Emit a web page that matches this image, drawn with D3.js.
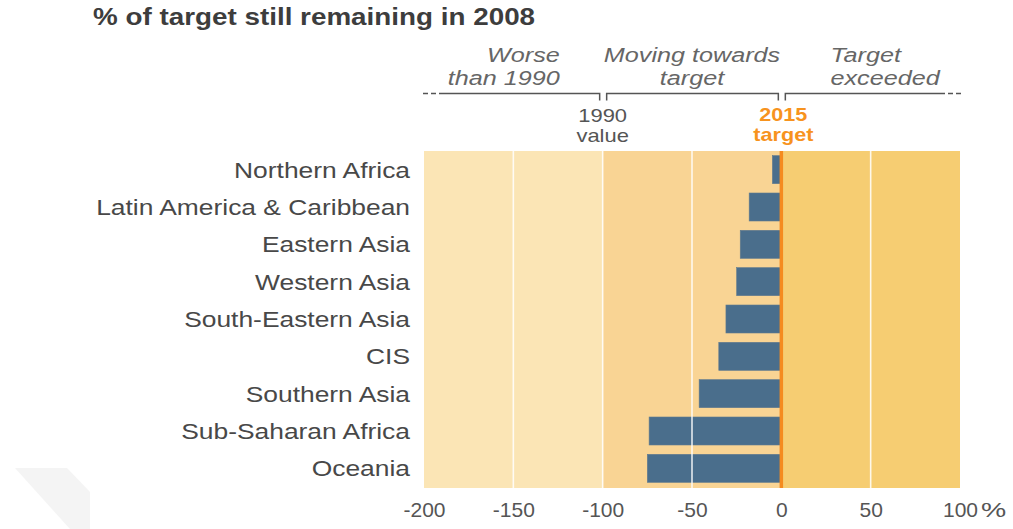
<!DOCTYPE html>
<html>
<head>
<meta charset="utf-8">
<script src="https://cdn.jsdelivr.net/npm/d3@7"></script>
<style>
  html, body { margin: 0; padding: 0; background: #fff; }
  svg { display: block; font-family: "Liberation Sans", Arial, sans-serif; }
</style>
</head>
<body>
<div id="chart"></div>
<script>
// --- data ---
const regions = ["Northern Africa", "Latin America & Caribbean", "Eastern Asia", "Western Asia",
                 "South-Eastern Asia", "CIS", "Southern Asia", "Sub-Saharan Africa", "Oceania"];
const remaining = [-5, -18, -23, -25, -31, -35, -46, -74, -75];   // % of target still remaining
const tickValues = [-200, -150, -100, -50, 0, 50, 100];
const gridValues = [-150, -100, -50, 50];
const zoneNames = [["Worse", "than 1990"], ["Moving towards", "target"], ["Target", "exceeded"]];
const zoneBounds = [[-200, -100], [-100, 0], [0, 100]];
const zoneColors = ["#fbe5b5", "#f9d494", "#f6cd72"];

const width = 1013, height = 529;
const SX = 1.2; // the original graphic's type is a little wide

const svg = d3.select("#chart").append("svg")
    .attr("width", width)
    .attr("height", height);

// place a text at (px, py) and widen it horizontally
function place(sel, px, py, sx) {
  return sel.attr("transform", `translate(${px},${py}) scale(${sx || SX},1)`);
}

// faint decoration bottom left
svg.append("polygon")
    .attr("points", "15,468 67,468 90,492 90,529 70,529")
    .attr("fill", "#f4f4f4");

// --- scales ---
const x = d3.scaleLinear().domain([-200, 100]).range([424, 960]);
const y = d3.scaleBand().domain(regions).range([151, 487]).paddingInner(0.25).paddingOuter(0.125);

const yTop = y.range()[0], yBottom = y.range()[1] + 1;

// title
place(svg.append("text"), 93, 25, 1.21)
    .attr("fill", "#3d3d3d")
    .style("font-size", "23px").style("font-weight", "bold")
    .text("% of target still remaining in 2008");

// --- background zones ---
svg.append("g").selectAll("rect")
    .data(zoneBounds)
    .join("rect")
    .attr("x", d => x(d[0]))
    .attr("y", yTop)
    .attr("width", d => x(d[1]) - x(d[0]))
    .attr("height", yBottom - yTop)
    .attr("fill", (d, i) => zoneColors[i]);

// --- bars ---
svg.append("g").selectAll("rect")
    .data(regions)
    .join("rect")
    .attr("x", (d, i) => x(remaining[i]))
    .attr("y", d => y(d))
    .attr("width", (d, i) => x(0) - x(remaining[i]))
    .attr("height", y.bandwidth())
    .attr("fill", "#4a6e8c")
    .attr("stroke", "#5f7a8f")
    .attr("stroke-width", 0.6);

// white grid lines (drawn over bars)
svg.append("g").selectAll("line")
    .data(gridValues)
    .join("line")
    .attr("x1", d => x(d)).attr("x2", d => x(d))
    .attr("y1", yTop).attr("y2", yBottom)
    .attr("stroke", "#fff")
    .attr("stroke-opacity", 0.85)
    .attr("stroke-width", 1.6);

// 2015 target line
svg.append("line")
    .attr("x1", x(0)).attr("x2", x(0))
    .attr("y1", yTop).attr("y2", yBottom)
    .attr("stroke", "#f58b1f")
    .attr("stroke-width", 3.5);

// --- category labels ---
svg.append("g").selectAll("text")
    .data(regions)
    .join("text")
    .attr("transform", d => `translate(410, ${y(d) + y.bandwidth() / 2 + 8}) scale(${SX},1)`)
    .attr("text-anchor", "end")
    .attr("fill", "#484848")
    .style("font-size", "22px")
    .text(d => d);

// --- x axis ---
const xAxis = d3.axisBottom(x)
    .tickValues(tickValues)
    .tickSize(0)
    .tickPadding(0)
    .tickFormat(d => String(d));

const axisG = svg.append("g")
    .attr("transform", `translate(0, 517)`)
    .call(xAxis);
axisG.select(".domain").remove();
axisG.selectAll("text")
    .attr("dy", 0).attr("y", 0)
    .attr("fill", "#555")
    .style("font-family", "'Liberation Sans', Arial, sans-serif")
    .style("font-size", "21px");

place(svg.append("text"), x(100) + 21, 517, 1.35)
    .attr("fill", "#555")
    .style("font-size", "21px")
    .text("%");

// --- header brackets ---
const bracketY = 93.5, tickLen = 7;
const brackets = svg.append("g")
    .attr("fill", "none")
    .attr("stroke", "#555")
    .attr("stroke-width", 1.5);

// worse than 1990: open to the left
brackets.append("path")
    .attr("d", `M${x(-200) + 15},${bracketY}H${x(-100) - 3}V${bracketY + tickLen}`);
brackets.append("path")
    .attr("d", `M${x(-200) - 1},${bracketY}H${x(-200) + 12}`)
    .attr("stroke-dasharray", "5,3");
// moving towards target
brackets.append("path")
    .attr("d", `M${x(-100) + 4},${bracketY + tickLen}V${bracketY}H${x(0) - 3}V${bracketY + tickLen}`);
// target exceeded: open to the right
brackets.append("path")
    .attr("d", `M${x(0) + 4},${bracketY + tickLen}V${bracketY}H${x(100) - 15}`);
brackets.append("path")
    .attr("d", `M${x(100) - 12},${bracketY}H${x(100) + 2}`)
    .attr("stroke-dasharray", "5,3");

// zone headings
const headAnchor = ["end", "middle", "start"];
const headX = [x(-124), x(-50), x(27.5)];
zoneNames.forEach((lines, i) => {
  const t = place(svg.append("text"), headX[i], 62)
      .attr("text-anchor", headAnchor[i])
      .attr("fill", "#666")
      .style("font-size", "21px").style("font-style", "italic");
  lines.forEach((s, j) => {
    t.append("tspan")
        .attr("x", 0)
        .attr("y", j * 23)
        .text(s);
  });
});

// 1990 value / 2015 target markers
const marker1990 = place(svg.append("text"), x(-100), 122, 1.22)
    .attr("text-anchor", "middle")
    .attr("fill", "#555")
    .style("font-size", "18px");
marker1990.append("tspan").attr("x", 0).attr("y", 0).text("1990");
marker1990.append("tspan").attr("x", 0).attr("y", 20.5).text("value");

const marker2015 = place(svg.append("text"), x(0) + 2, 121, 1.2)
    .attr("text-anchor", "middle")
    .attr("fill", "#f7931e")
    .style("font-size", "18px").style("font-weight", "bold");
marker2015.append("tspan").attr("x", 0).attr("y", 0).text("2015");
marker2015.append("tspan").attr("x", 0).attr("y", 20.5).text("target");
</script>
</body>
</html>
